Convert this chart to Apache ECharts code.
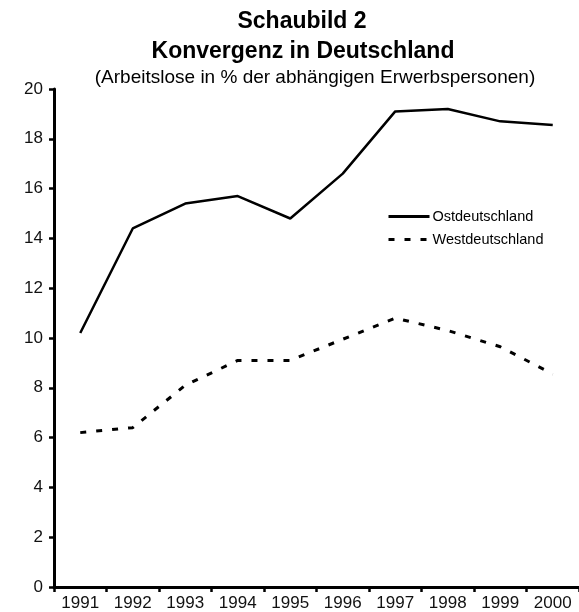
<!DOCTYPE html>
<html>
<head>
<meta charset="utf-8">
<script src="https://cdn.jsdelivr.net/npm/echarts@6/dist/echarts.min.js"></script>
<style>
html,body{margin:0;padding:0;background:#fff;}
#chart{width:579px;height:612px;}
</style>
</head>
<body>
<div id="chart"></div>
<script>
const years = ['1991','1992','1993','1994','1995','1996','1997','1998','1999','2000'];
const ost = [10.2, 14.4, 15.4, 15.7, 14.8, 16.6, 19.1, 19.2, 18.7, 18.55];
const west = [6.2, 6.4, 8.1, 9.1, 9.1, 9.95, 10.8, 10.3, 9.65, 8.55];
const seriesNames = ['Ostdeutschland', 'Westdeutschland'];
const titleMain = 'Schaubild 2';
const titleSub1 = 'Konvergenz in Deutschland';
const titleSub2 = '(Arbeitslose in % der abhängigen Erwerbspersonen)';

const FONT = 'Liberation Sans, Arial, sans-serif';
const chart = echarts.init(document.getElementById('chart'), null, {renderer: 'canvas'});
chart.setOption({
  animation: false,
  backgroundColor: '#fff',
  title: [
    {text: titleMain, left: 297, top: 5, textAlign: 'center',
     textStyle: {fontFamily: FONT, fontSize: 23, fontWeight: 'bold', color: '#000'}},
    {text: titleSub1, left: 298, top: 35, textAlign: 'center',
     textStyle: {fontFamily: FONT, fontSize: 23, fontWeight: 'bold', color: '#000'}},
    {text: titleSub2, left: 310, top: 63, textAlign: 'center',
     textStyle: {fontFamily: FONT, fontSize: 19, fontWeight: 'normal', color: '#000'}}
  ],
  legend: {
    orient: 'vertical',
    left: 382,
    top: 204,
    itemWidth: 41,
    itemHeight: 14,
    itemGap: 8,
    itemStyle: {opacity: 0},
    lineStyle: {width: 3},
    textStyle: {fontFamily: FONT, fontSize: 14.5, color: '#000', padding: [0,0,0,-2]},
    data: seriesNames
  },
  grid: {left: 54, top: 89, width: 528, bottom: 24, containLabel: false},
  xAxis: {
    type: 'category',
    data: years,
    boundaryGap: true,
    axisLine: {show: true, lineStyle: {color: '#000', width: 3}},
    axisTick: {show: true, length: 5, lineStyle: {color: '#000', width: 2.5}},
    axisLabel: {fontFamily: FONT, fontSize: 17, color: '#111', margin: 8},
    splitLine: {show: false}
  },
  yAxis: {
    type: 'value',
    min: 0, max: 20, interval: 2,
    axisLine: {show: true, lineStyle: {color: '#000', width: 3}},
    axisTick: {show: true, length: 5, lineStyle: {color: '#000', width: 2.5}},
    axisLabel: {fontFamily: FONT, fontSize: 17, color: '#111', margin: 11},
    splitLine: {show: false}
  },
  series: [
    {name: seriesNames[0], type: 'line', data: ost, symbol: 'none',
     lineStyle: {color: '#000', width: 2.5, type: 'solid'}, itemStyle: {color: '#000'}},
    {name: seriesNames[1], type: 'line', data: west, symbol: 'none',
     lineStyle: {color: '#000', width: 3, type: [6, 10]}, itemStyle: {color: '#000'}}
  ]
});
</script>
</body>
</html>
